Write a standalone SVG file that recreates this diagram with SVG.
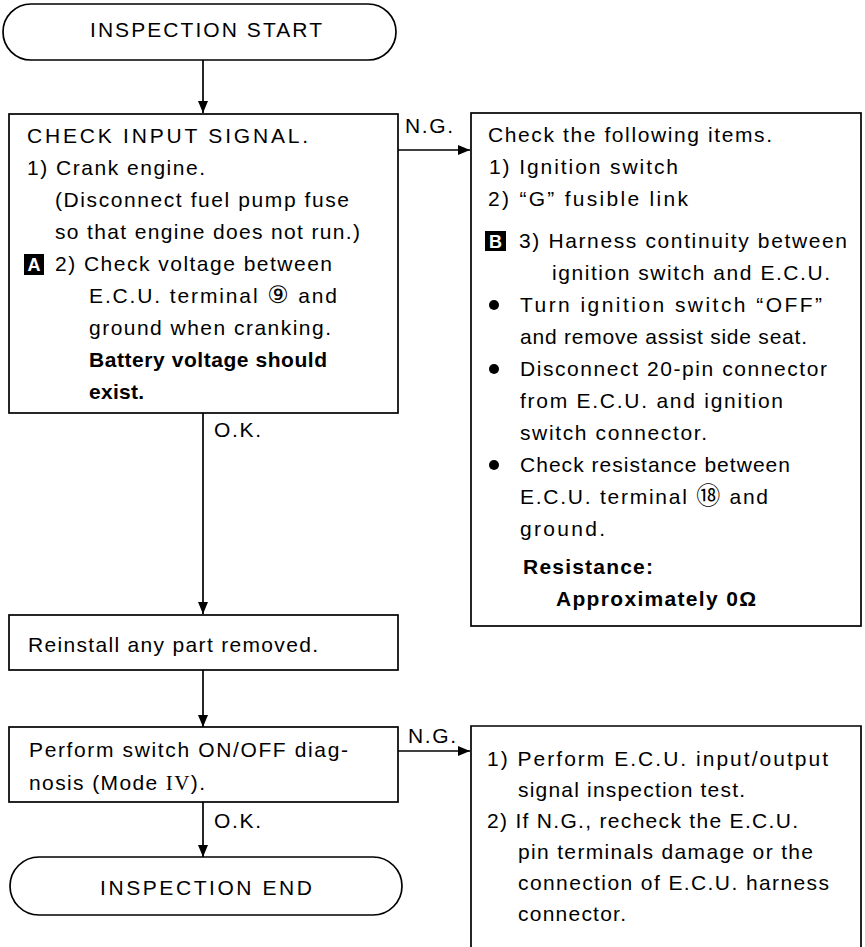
<svg xmlns="http://www.w3.org/2000/svg" width="865" height="947" viewBox="0 0 865 947">
<defs>
<style>
.t{font-family:"Liberation Sans",Arial,"DejaVu Sans",sans-serif;font-size:21px;fill:#000}
.b{font-weight:bold}
.box{fill:#fff;stroke:#000;stroke-width:1.7}
.ln{stroke:#000;stroke-width:1.7;fill:none}
.tag{fill:#000}
.tagt{font-family:"Liberation Sans",Arial,sans-serif;font-size:18px;font-weight:bold;fill:#fff}
.rn{font-family:"Liberation Serif","Times New Roman",serif}
.cd{font-family:"DejaVu Sans","Noto Sans CJK JP",sans-serif;font-size:24px}
</style>
<marker id="ah" viewBox="0 0 12 10" refX="12" refY="5" markerWidth="12" markerHeight="10" markerUnits="userSpaceOnUse" orient="auto">
<path d="M0,0 L12,5 L0,10 z" fill="#000"/>
</marker>
</defs>
<rect width="865" height="947" fill="#fff"/>

<g id="connectors">
<line class="ln" x1="203" y1="60" x2="203" y2="113" marker-end="url(#ah)"/>
<line class="ln" x1="398" y1="150" x2="470" y2="150" marker-end="url(#ah)"/>
<line class="ln" x1="203" y1="413" x2="203" y2="614" marker-end="url(#ah)"/>
<line class="ln" x1="203" y1="670" x2="203" y2="727" marker-end="url(#ah)"/>
<line class="ln" x1="398" y1="751" x2="470" y2="751" marker-end="url(#ah)"/>
<line class="ln" x1="203" y1="802" x2="203" y2="857" marker-end="url(#ah)"/>
<text class="t" x="405" y="133" textLength="48">N.G.</text>
<text class="t" x="214" y="437" textLength="47">O.K.</text>
<text class="t" x="408" y="743" textLength="48">N.G.</text>
<text class="t" x="214" y="828" textLength="47">O.K.</text>
</g>

<g id="start">
<rect class="box" x="3" y="4" width="393" height="56" rx="28" ry="28"/>
<text class="t" x="206" y="37" text-anchor="middle" textLength="232">INSPECTION START</text>
</g>

<g id="check-input">
<rect class="box" x="9" y="114" width="389" height="299"/>
<text class="t" x="27" y="143" textLength="281">CHECK INPUT SIGNAL.</text>
<text class="t" x="27" y="175" textLength="178">1) Crank engine.</text>
<text class="t" x="55" y="207" textLength="294">(Disconnect fuel pump fuse</text>
<text class="t" x="55" y="239" textLength="305">so that engine does not run.)</text>
<rect class="tag" x="24" y="254" width="20" height="21"/>
<text class="tagt" x="34" y="271" text-anchor="middle">A</text>
<text class="t" x="55" y="271" textLength="277">2) Check voltage between</text>
<text class="t" x="89" y="303" textLength="248">E.C.U. terminal <tspan class="cd">⑨</tspan> and</text>
<text class="t" x="89" y="335" textLength="242">ground when cranking.</text>
<text class="t b" x="89" y="367" textLength="238">Battery voltage should</text>
<text class="t b" x="89" y="399" textLength="55">exist.</text>
</g>

<g id="check-items">
<rect class="box" x="471" y="113" width="390" height="513"/>
<text class="t" x="488" y="142" textLength="284">Check the following items.</text>
<text class="t" x="489" y="174" textLength="189">1) Ignition switch</text>
<text class="t" x="488" y="206" textLength="200">2) “G” fusible link</text>
<rect class="tag" x="485" y="231" width="21" height="20"/>
<text class="tagt" x="495.5" y="248" text-anchor="middle">B</text>
<text class="t" x="519" y="248" textLength="328">3) Harness continuity between</text>
<text class="t" x="552" y="280" textLength="278">ignition switch and E.C.U.</text>
<circle cx="494" cy="305" r="5"/>
<text class="t" x="520" y="312" textLength="302">Turn ignition switch “OFF”</text>
<text class="t" x="520" y="344" textLength="287">and remove assist side seat.</text>
<circle cx="494" cy="369" r="5"/>
<text class="t" x="520" y="376" textLength="307">Disconnect 20-pin connector</text>
<text class="t" x="520" y="408" textLength="263">from E.C.U. and ignition</text>
<text class="t" x="520" y="440" textLength="187">switch connector.</text>
<circle cx="494" cy="465" r="5"/>
<text class="t" x="520" y="472" textLength="270">Check resistance between</text>
<text class="t" x="520" y="504" textLength="248">E.C.U. terminal <tspan class="cd">⑱</tspan> and</text>
<text class="t" x="520" y="536" textLength="85">ground.</text>
<text class="t b" x="523" y="574" textLength="130">Resistance:</text>
<text class="t b" x="556" y="606" textLength="200">Approximately 0Ω</text>
</g>

<g id="reinstall">
<rect class="box" x="9" y="615" width="389" height="55"/>
<text class="t" x="28" y="652" textLength="290">Reinstall any part removed.</text>
</g>

<g id="diagnosis">
<rect class="box" x="9" y="727" width="389" height="75"/>
<text class="t" x="29" y="757" textLength="319">Perform switch ON/OFF diag-</text>
<text class="t" x="29" y="790" textLength="176">nosis (Mode <tspan class="rn">IV</tspan>).</text>
</g>

<g id="ecu-test">
<path class="ln" d="M471,950 V726 H861 V950"/>
<text class="t" x="487" y="766" textLength="341">1) Perform E.C.U. input/output</text>
<text class="t" x="518" y="797" textLength="227">signal inspection test.</text>
<text class="t" x="487" y="828" textLength="311">2) If N.G., recheck the E.C.U.</text>
<text class="t" x="518" y="859" textLength="295">pin terminals damage or the</text>
<text class="t" x="518" y="890" textLength="311">connection of E.C.U. harness</text>
<text class="t" x="518" y="921" textLength="108">connector.</text>
</g>

<g id="end">
<rect class="box" x="10" y="857" width="392" height="58" rx="29" ry="29"/>
<text class="t" x="206" y="895" text-anchor="middle" textLength="212">INSPECTION END</text>
</g>
</svg>
